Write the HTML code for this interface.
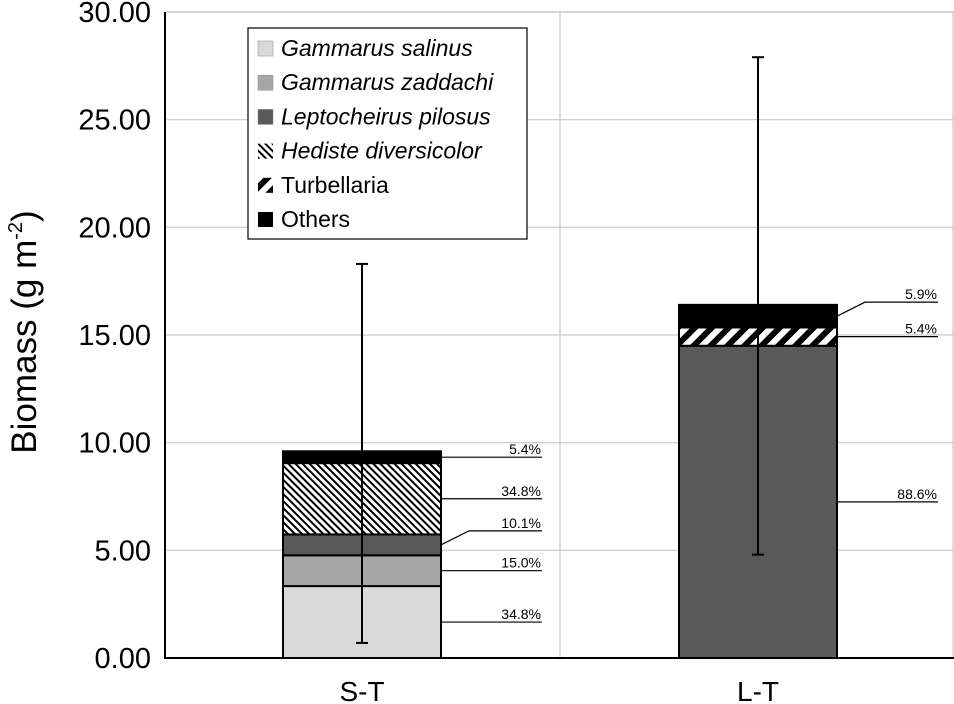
<!DOCTYPE html>
<html><head><meta charset="utf-8"><style>
body{margin:0;background:#fff;}
svg{display:block;font-family:"Liberation Sans",sans-serif;}
</style></head><body>
<svg id="c" width="954" height="704" xmlns="http://www.w3.org/2000/svg">
<defs>
<pattern id="hed" patternUnits="userSpaceOnUse" width="5" height="5" patternTransform="rotate(-45)">
<rect width="5" height="5" fill="#fff"/><rect width="2" height="5" fill="#000"/></pattern>
<pattern id="tur" patternUnits="userSpaceOnUse" width="12" height="12" patternTransform="rotate(45)">
<rect width="12" height="12" fill="#fff"/><rect width="6" height="12" fill="#000"/></pattern>
</defs>
<g id="grid"></g>
<g id="bars"></g>
<g id="labels"></g>
<g id="axes"></g>
<g id="legend"></g>
</svg>
<script>
const categories=["S-T","L-T"];
const species=["Gammarus salinus","Gammarus zaddachi","Leptocheirus pilosus","Hediste diversicolor","Turbellaria","Others"];
const italic=[true,true,true,true,false,false];
const fills=["#d9d9d9","#a6a6a6","#595959","url(#hed)","url(#tur)","#000"];
const valsST=[3.34,1.43,0.97,3.31,0,0.55];
const valsLT=[0,0,14.5,0,0.85,1.05];
const errLow=[0.7,4.8];
const errHigh=[18.3,27.9];
const yTicks=[0,5,10,15,20,25,30];
const pctST=["34.8%","15.0%","10.1%","34.8%","","5.4%"];
const pctLT=["","","88.6%","","5.4%","5.9%"];
const NS="http://www.w3.org/2000/svg";
const X0=165,X1=954,Y0=658,Y1=12;
const y=v=>Y0-(v/30)*(Y0-Y1);
const cx=i=>362+i*396;
const BW=158;
function el(t,a,p){const e=document.createElementNS(NS,t);for(const k in a)e.setAttribute(k,a[k]);p.appendChild(e);return e;}
const grid=document.getElementById('grid'),bars=document.getElementById('bars'),labels=document.getElementById('labels'),axes=document.getElementById('axes'),legend=document.getElementById('legend');
yTicks.forEach(t=>{
 if(t>0){const g=el('line',{x1:X0,x2:X1,y1:y(t),y2:y(t),stroke:'#c8c8c8','stroke-width':1.2},grid);
 
 }
 const tx=el('text',{x:151,y:y(t)+10,'text-anchor':'end','font-size':29,fill:'#000'},axes);
 tx.textContent=t.toFixed(2);
 
 
});
el('line',{x1:560,x2:560,y1:Y1,y2:Y0,stroke:'#c8c8c8','stroke-width':1.2},grid);
el('line',{x1:953,x2:953,y1:Y1,y2:Y0,stroke:'#c8c8c8','stroke-width':1.2},grid);
const all=[valsST,valsLT],pcts=[pctST,pctLT];
all.forEach((vals,i)=>{
 let cum=0;const x=cx(i)-BW/2;
 const segs=[];
 vals.forEach((v,j)=>{
  if(v<=0){segs.push(null);return;}
  const r=el('rect',{x:x,y:y(cum+v),width:BW,height:y(cum)-y(cum+v),fill:fills[j],stroke:'#000','stroke-width':2},bars);
  
  
  segs.push([cum,cum+v]);cum+=v;
 });
 const e=el('line',{x1:cx(i),x2:cx(i),y1:y(errLow[i]),y2:y(errHigh[i]),stroke:'#000','stroke-width':2},bars);
 
 
 [errLow[i],errHigh[i]].forEach(v=>el('line',{x1:cx(i)-6,x2:cx(i)+6,y1:y(v),y2:y(v),stroke:'#000','stroke-width':2},bars));
 const xr=x+BW, xe=xr+101;
 let prevY=9999;
 segs.forEach((s,j)=>{
  if(!s||!pcts[i][j])return;
  const ly=(y(s[0])+y(s[1]))/2;
  let ty=ly;
  if(prevY-ly<30) ty=ly-14;
  prevY=ty;
  const pts=(Math.abs(ty-ly)>2)?`${xr},${ly} ${xr+28},${ty} ${xe},${ty}`:`${xr},${ty} ${xe},${ty}`;
  el('polyline',{points:pts,fill:'none',stroke:'#000','stroke-width':1.2},labels);
  const t=el('text',{x:xe-1,y:ty-3,'text-anchor':'end','font-size':14},labels);
  t.textContent=pcts[i][j];
  
  
 });
 const cl=el('text',{x:cx(i),y:701,'text-anchor':'middle','font-size':28},axes);
 cl.textContent=categories[i];
 
 
});
el('line',{x1:X0,x2:X0,y1:Y1,y2:Y0+1,stroke:'#000','stroke-width':2},axes);
el('line',{x1:X0,x2:X1,y1:Y0,y2:Y0,stroke:'#000','stroke-width':2},axes);
el('line',{x1:X0,x2:X1,y1:Y1,y2:Y1,stroke:'#c8c8c8','stroke-width':1.2},grid);
const yt=el('text',{transform:'translate(36,332) rotate(-90)','text-anchor':'middle','font-size':35},axes);
yt.innerHTML='Biomass (g m<tspan font-size="20" dy="-14">-2</tspan><tspan dy="14">)</tspan>';


const lb=el('rect',{x:248,y:28,width:279,height:211,fill:'#fff',stroke:'#000','stroke-width':1.2},legend);


species.forEach((s,j)=>{
 const yy=48+j*34.2;
 el('rect',{x:258,y:yy-7,width:15,height:15,fill:fills[j],stroke:j<3?'#888':'none','stroke-width':0.5},legend);
 const t=el('text',{x:281,y:yy+8,'font-size':23,'font-style':italic[j]?'italic':'normal'},legend);
 t.textContent=s;
 
 
});
</script>
</body></html>
